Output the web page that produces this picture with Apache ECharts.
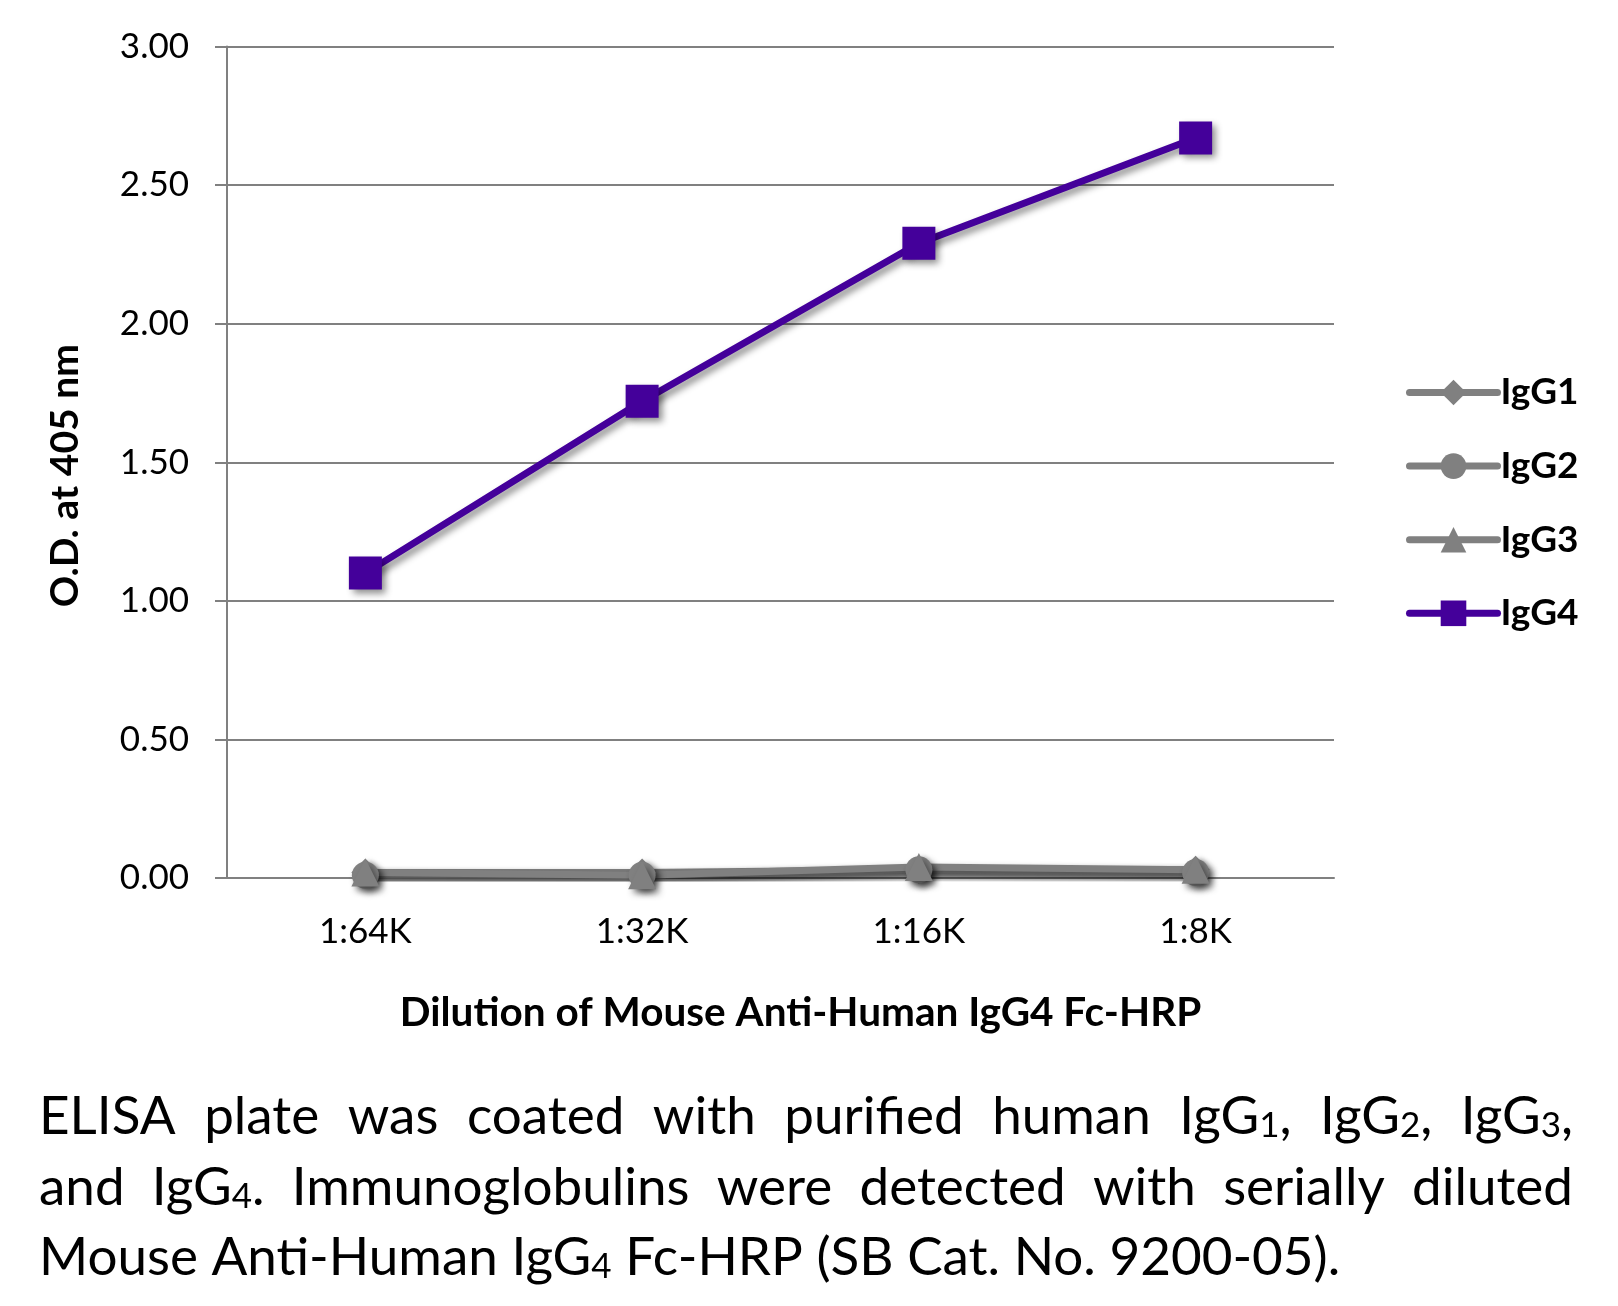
<!DOCTYPE html>
<html><head><meta charset="utf-8">
<script src="https://cdn.jsdelivr.net/npm/echarts@6/dist/echarts.min.js"></script>
<style>html,body{margin:0;padding:0;background:#fff}#c{width:1618px;height:1306px}</style>
</head><body><div id="c"></div>
<script>
const categories = ['1:64K', '1:32K', '1:16K', '1:8K'];
const yTicks = [0, 0.5, 1.0, 1.5, 2.0, 2.5, 3.0];
const igg1 = [0.02, 0.02, 0.03, 0.03];
const igg2 = [0.01, 0.01, 0.03, 0.02];
const igg3 = [0.02, 0.01, 0.04, 0.03];
const igg4 = [1.10, 1.72, 2.29, 2.67];
const seriesNames = ['IgG1', 'IgG2', 'IgG3', 'IgG4'];
const xTitle = 'Dilution of Mouse Anti-Human IgG4 Fc-HRP';
const yTitle = 'O.D. at 405 nm';
const captionLines = [
  'ELISA plate was coated with purified human IgG{s|1}, IgG{s|2}, IgG{s|3},',
  'and IgG{s|4}.  Immunoglobulins were detected with serially diluted',
  'Mouse Anti-Human IgG{s|4} Fc-HRP (SB Cat. No. 9200-05).'
];
const captionJustify = [true, true, false];

const FONT = 'Lato';
const GRAY = '#808080';
const PURPLE = '#44009A';
const capSize = 53, capSmall = 35;
const capLeft = 39, capRight = 1573;
const capY = [1117, 1188, 1258];

const cv = document.createElement('canvas').getContext('2d');
function measure(word) {
  let w = 0; const re = /\{s\|([^}]*)\}/g; let last = 0, m;
  while ((m = re.exec(word))) {
    cv.font = capSize + 'px ' + FONT; w += cv.measureText(word.slice(last, m.index)).width;
    cv.font = capSmall + 'px ' + FONT; w += cv.measureText(m[1]).width;
    last = re.lastIndex;
  }
  cv.font = capSize + 'px ' + FONT; w += cv.measureText(word.slice(last)).width;
  return w;
}
cv.font = capSize + 'px ' + FONT;
const spaceW = cv.measureText(' ').width;
const graphics = [];
captionLines.forEach((line, i) => {
  const words = line.split(/ +/);
  const widths = words.map(measure);
  const total = widths.reduce((a, b) => a + b, 0);
  const gap = captionJustify[i] ? (capRight - capLeft - total) / (words.length - 1) : spaceW;
  let x = capLeft;
  words.forEach((w, j) => {
    graphics.push({type: 'text', x: x, y: capY[i], style: {
      text: w, fontFamily: FONT, fontSize: capSize, fill: '#000', verticalAlign: 'middle',
      rich: {s: {fontSize: capSmall, fontFamily: FONT, fill: '#000', verticalAlign: 'bottom'}}
    }});
    x += widths[j] + gap;
  });
});

const shadow = {shadowBlur: 7, shadowOffsetX: 4, shadowOffsetY: 4, shadowColor: 'rgba(0,0,0,0.45)'};
function grayS(name, data, symbol, size) {
  return {name, type: 'line', data, symbol, symbolSize: size,
    lineStyle: Object.assign({color: GRAY, width: 7}, shadow),
    itemStyle: Object.assign({color: GRAY}, shadow)};
}
const chart = echarts.init(document.getElementById('c'), null, {renderer: 'canvas'});
chart.setOption({
  animation: false,
  textStyle: {fontFamily: FONT},
  grid: {left: 227, right: 284, top: 46.5, bottom: 428, containLabel: false},
  legend: {orient: 'vertical', left: 1401, top: 369, itemWidth: 88, itemHeight: 32, itemGap: 36.6,
    data: seriesNames,
    lineStyle: {width: 7, cap: 'round', shadowBlur: 0, shadowOffsetX: 0, shadowOffsetY: 0},
    itemStyle: {shadowBlur: 0, shadowOffsetX: 0, shadowOffsetY: 0},
    textStyle: {fontFamily: FONT, fontSize: 37, lineHeight: 32, fontWeight: 'bold', color: '#000', padding: [0, 0, 0, -2]}},
  xAxis: {type: 'category', data: categories, boundaryGap: true,
    axisLine: {lineStyle: {color: GRAY, width: 2}},
    axisTick: {length: 12, lineStyle: {color: GRAY, width: 2}},
    axisLabel: {fontSize: 35, color: '#000', margin: 36, fontFamily: FONT},
    name: xTitle, nameLocation: 'middle', nameGap: 114,
    nameTextStyle: {fontSize: 40.5, fontWeight: 'bold', color: '#000', fontFamily: FONT, padding: [0, 0, 0, 40]}},
  yAxis: {type: 'value', min: 0, max: 3, interval: 0.5,
    axisLine: {show: true, lineStyle: {color: GRAY, width: 2}},
    axisTick: {show: true, length: 12, lineStyle: {color: GRAY, width: 2}},
    splitLine: {lineStyle: {color: GRAY, width: 2}},
    axisLabel: {fontSize: 35, color: '#000', margin: 38, fontFamily: FONT,
      formatter: v => yTicks.includes(v) ? v.toFixed(2) : ''},
    name: yTitle, nameLocation: 'middle', nameGap: 142, nameRotate: 90,
    nameTextStyle: {fontSize: 39, fontWeight: 'bold', color: '#000', fontFamily: FONT, padding: [0, 27, 0, 0]}},
  series: [
    grayS('IgG1', igg1, 'diamond', 28),
    grayS('IgG2', igg2, 'circle', 27),
    grayS('IgG3', igg3, 'triangle', 28),
    {name: 'IgG4', type: 'line', data: igg4, symbol: 'rect', symbolSize: 33,
      lineStyle: Object.assign({color: PURPLE, width: 7}, shadow),
      itemStyle: Object.assign({color: PURPLE}, shadow)}
  ],
  graphic: graphics
});
</script></body></html>
